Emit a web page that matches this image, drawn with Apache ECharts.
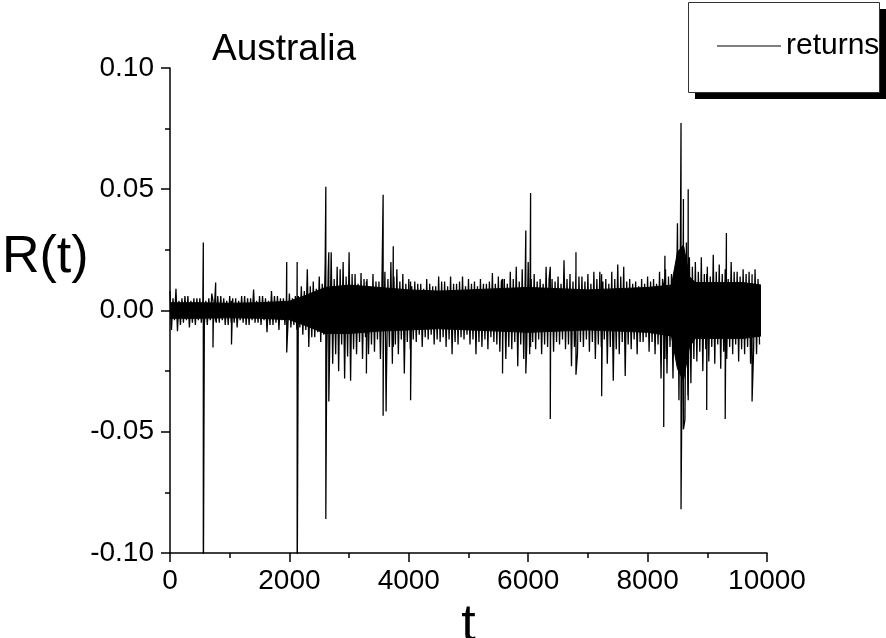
<!DOCTYPE html>
<html>
<head>
<meta charset="utf-8">
<script src="https://cdn.jsdelivr.net/npm/echarts@6/dist/echarts.min.js"></script>
<style>
html,body{margin:0;padding:0;background:#fff;}
#chart{width:886px;height:638px;}
</style>
</head>
<body>
<div id="chart"></div>
<script>
// ---- Data ----
const seriesName = 'returns';
const chartTitle = 'Australia';
const yName = 'R(t)';
const xName = 't';
const xTicks = [0, 2000, 4000, 6000, 8000, 10000];
const yTicks = ['-0.10', '-0.05', '0.00', '0.05', '0.10'];

// outer envelope of the fluctuations, one pair per block of 100 time steps (t = 0, 100, ... 9800)
const blockStep = 100;
const noiseHi = [0.008,0.009,0.005,0.006,0.005,0.005,0.004,0.007,0.006,0.005,
  0.006,0.005,0.006,0.005,0.0086,0.006,0.005,0.008,0.006,0.005,
  0.007,0.006,0.010,0.017,0.012,0.014,0.020,0.024,0.018,0.020,
  0.024,0.015,0.0155,0.013,0.015,0.012,0.016,0.020,0.017,0.015,
  0.013,0.012,0.011,0.013,0.010,0.014,0.012,0.014,0.011,0.014,
  0.013,0.012,0.013,0.011,0.0155,0.014,0.013,0.016,0.018,0.017,
  0.020,0.015,0.013,0.018,0.013,0.014,0.0207,0.015,0.017,0.014,
  0.015,0.016,0.016,0.013,0.016,0.019,0.018,0.013,0.012,0.013,
  0.014,0.013,0.016,0.017,0.015,0.036,0.040,0.022,0.020,0.022,
  0.018,0.023,0.019,0.017,0.020,0.016,0.017,0.016,0.017];
const noiseLo = [-0.008,-0.0085,-0.005,-0.007,-0.006,-0.005,-0.006,-0.006,-0.005,-0.006,
  -0.005,-0.007,-0.005,-0.006,-0.005,-0.006,-0.009,-0.006,-0.008,-0.006,
  -0.007,-0.008,-0.010,-0.015,-0.011,-0.013,-0.020,-0.022,-0.025,-0.028,
  -0.029,-0.018,-0.020,-0.018,-0.017,-0.020,-0.029,-0.022,-0.018,-0.026,
  -0.016,-0.013,-0.015,-0.012,-0.014,-0.013,-0.015,-0.018,-0.014,-0.012,
  -0.014,-0.018,-0.015,-0.016,-0.013,-0.017,-0.020,-0.016,-0.023,-0.020,
  -0.018,-0.016,-0.018,-0.015,-0.017,-0.014,-0.016,-0.023,-0.018,-0.015,
  -0.017,-0.020,-0.015,-0.022,-0.029,-0.018,-0.027,-0.016,-0.018,-0.013,
  -0.017,-0.018,-0.028,-0.026,-0.028,-0.037,-0.045,-0.030,-0.021,-0.025,
  -0.021,-0.022,-0.024,-0.020,-0.018,-0.021,-0.018,-0.022,-0.018];

// inner (typical) fluctuations, second pair in each block of 100 time steps
const midHi = [0.005,0.004,0.006,0.004,0.005,0.004,0.005,0.004,0.006,0.004,
  0.005,0.004,0.006,0.005,0.004,0.006,0.004,0.006,0.005,0.005,
  0.005,0.006,0.008,0.010,0.009,0.011,
  0.016,0.013,0.017,0.014,0.015,
  0.011,0.013,0.010,0.012,0.011,0.013,0.014,0.012,0.011,0.010,
  0.011,0.009,0.011,0.010,0.012,0.010,0.011,0.012,0.010,
  0.011,0.010,0.011,0.012,0.011,0.012,0.011,0.013,0.012,0.014,
  0.013,0.012,0.011,0.013,0.012,0.011,0.013,0.012,0.014,0.012,
  0.011,0.013,0.012,0.011,0.013,0.014,0.012,0.011,0.010,0.011,
  0.012,0.011,0.013,0.014,
  0.015,0.030,0.028,0.018,0.016,
  0.015,0.014,0.016,0.015,0.013,0.016,0.014,0.015,0.014,0.013];
const midLo = [-0.004,-0.006,-0.004,-0.005,-0.004,-0.006,-0.004,-0.005,-0.004,-0.006,
  -0.005,-0.004,-0.006,-0.004,-0.005,-0.004,-0.006,-0.005,-0.004,-0.006,
  -0.006,-0.007,-0.008,-0.011,-0.009,-0.010,
  -0.015,-0.018,-0.014,-0.019,-0.016,
  -0.013,-0.011,-0.014,-0.012,-0.013,-0.015,-0.014,-0.012,-0.013,-0.012,
  -0.010,-0.011,-0.010,-0.012,-0.011,-0.012,-0.013,-0.011,-0.010,
  -0.012,-0.013,-0.012,-0.011,-0.014,-0.012,-0.015,-0.013,-0.014,-0.015,
  -0.013,-0.012,-0.014,-0.012,-0.013,-0.012,-0.014,-0.015,-0.013,-0.012,
  -0.013,-0.014,-0.012,-0.015,-0.016,-0.013,-0.014,-0.012,-0.013,-0.011,
  -0.013,-0.014,-0.016,-0.015,
  -0.016,-0.032,-0.035,-0.020,-0.017,
  -0.016,-0.015,-0.014,-0.017,-0.015,-0.014,-0.016,-0.015,-0.017,-0.014];

// isolated large moves (time, highest, lowest)
const spikeT  = [558, 720, 765, 1030, 1955, 2130, 2610, 2660, 3290, 3570, 3620, 3740, 4030, 5570,
  5960, 6040, 6370, 6800, 7230, 8270, 8290, 8560, 8600, 8680, 8990, 9300, 9320, 9750];
const spikeHi = [0.028, 0.004, 0.0115, 0.004, 0.020, 0.020, 0.051, 0.024, 0.012, 0.0477, 0.016, 0.0265, 0.012, 0.013,
  0.033, 0.0485, 0.018, 0.024, 0.015, 0.010, 0.0226, 0.0773, 0.046, 0.050, 0.015, 0.015, 0.032, 0.015];
const spikeLo = [-0.12, -0.0153, -0.004, -0.014, -0.0173, -0.12, -0.086, -0.0375, -0.026, -0.0434, -0.0416, -0.015, -0.037, -0.026,
  -0.026, -0.015, -0.0447, -0.0265, -0.0354, -0.048, -0.020, -0.082, -0.049, -0.037, -0.041, -0.0447, -0.012, -0.0375];

// dense (solid black) core of the series
const coreT  = [0, 500, 1000, 1500, 2000, 2300, 2600, 3000, 3500, 4000, 4500, 5000, 5500, 6000, 6500,
  7000, 7500, 8000, 8400, 8500, 8600, 8700, 8800, 9200, 9600, 9900];
const coreHi = [0.0032, 0.0032, 0.003, 0.0032, 0.0038, 0.0065, 0.0095, 0.0105, 0.0095, 0.0085, 0.008, 0.0085, 0.009, 0.0095, 0.009,
  0.0085, 0.009, 0.0095, 0.0105, 0.024, 0.027, 0.014, 0.0115, 0.0115, 0.0115, 0.0105];
const coreLo = [-0.0032, -0.0032, -0.003, -0.0032, -0.0038, -0.0065, -0.0095, -0.0095, -0.0085, -0.008, -0.0075, -0.008, -0.0085, -0.009, -0.0085,
  -0.008, -0.0085, -0.009, -0.0105, -0.024, -0.029, -0.015, -0.0115, -0.0115, -0.0115, -0.0105];

// ---- build series data ----
const pts = [];
noiseHi.forEach((v, i) => {
  const t0 = i * blockStep;
  pts.push({t: t0, v: v, k: 0});
  pts.push({t: t0 + blockStep / 4, v: noiseLo[i], k: 1});
  pts.push({t: t0 + blockStep / 2, v: midHi[i], k: 0});
  pts.push({t: t0 + 3 * blockStep / 4, v: midLo[i], k: 1});
});
spikeT.forEach((t, i) => { pts.push({t: t, v: spikeHi[i], k: 0}); pts.push({t: t, v: spikeLo[i], k: 1}); });
pts.sort((a, b) => a.t - b.t || a.k - b.k);
const returnsData = pts.map(p => [p.t, p.v]);
const coreHiData = coreT.map((t, i) => [t, coreHi[i]]);
const coreLoData = coreT.map((t, i) => [t, coreLo[i]]);

const FONT = '"Liberation Sans", Arial, sans-serif';
const chart = echarts.init(document.getElementById('chart'), null, {renderer: 'canvas'});
chart.setOption({
  backgroundColor: '#fff',
  animation: false,
  title: {
    text: chartTitle, left: 207, top: 26,
    textStyle: {fontFamily: FONT, fontSize: 37, fontWeight: 'normal', color: '#000'}
  },
  graphic: [
    {type: 'rect', z: 1, shape: {x: 695, y: 9, width: 191, height: 90}, style: {fill: '#000'}},
    {type: 'rect', z: 2, shape: {x: 688.5, y: 2.5, width: 191, height: 90}, style: {fill: '#fff', stroke: '#333', lineWidth: 1}},
    {type: 'text', z: 5, left: 2, top: 232, style: {text: yName, font: '52px "Liberation Sans", Arial, sans-serif', fill: '#000'}}
  ],
  legend: {
    data: [{name: seriesName, icon: 'rect'}], left: 712, top: 26, z: 10,
    itemWidth: 64, itemHeight: 1, itemGap: 4,
    itemStyle: {color: '#000'},
    textStyle: {fontFamily: FONT, fontSize: 30, color: '#000'}
  },
  grid: {left: 170, top: 68, width: 597, height: 485, outerBoundsMode: 'none', containLabel: false},
  xAxis: {
    type: 'value', min: 0, max: 10000, interval: 2000,
    name: xName, nameLocation: 'middle', nameGap: 42,
    nameTextStyle: {fontFamily: FONT, fontSize: 52, color: '#000'},
    axisLine: {onZero: false, lineStyle: {color: '#000', width: 1.5}},
    axisTick: {show: true, inside: false, length: 9, lineStyle: {color: '#000', width: 1.5}},
    minorTick: {show: true, splitNumber: 2, length: 5, lineStyle: {color: '#000', width: 1.5}},
    splitLine: {show: false},
    axisLabel: {fontFamily: FONT, fontSize: 28, color: '#000', margin: 14,
      formatter: v => xTicks.indexOf(v) >= 0 ? String(v) : ''}
  },
  yAxis: {
    type: 'value', min: -0.1, max: 0.1, interval: 0.05,
    axisLine: {onZero: false, lineStyle: {color: '#000', width: 1.5}},
    axisTick: {show: true, inside: false, length: 9, lineStyle: {color: '#000', width: 1.5}},
    minorTick: {show: true, splitNumber: 2, length: 5, lineStyle: {color: '#000', width: 1.5}},
    splitLine: {show: false},
    axisLabel: {fontFamily: FONT, fontSize: 28, color: '#000', margin: 16,
      formatter: v => yTicks[Math.round((v + 0.1) / 0.05)]}
  },
  series: [
    {name: 'core-upper', type: 'line', data: coreHiData, symbol: 'none', silent: true,
      lineStyle: {width: 1, color: '#000'}, itemStyle: {color: '#000'}, areaStyle: {color: '#000', opacity: 1, origin: -0.002}},
    {name: 'core-lower', type: 'line', data: coreLoData, symbol: 'none', silent: true,
      lineStyle: {width: 1, color: '#000'}, itemStyle: {color: '#000'}, areaStyle: {color: '#000', opacity: 1, origin: 0.002}},
    {name: seriesName, type: 'line', data: returnsData, symbol: 'none', clip: true,
      itemStyle: {color: '#000'}, lineStyle: {color: '#000', width: 1.3}}
  ]
});
</script>
</body>
</html>
